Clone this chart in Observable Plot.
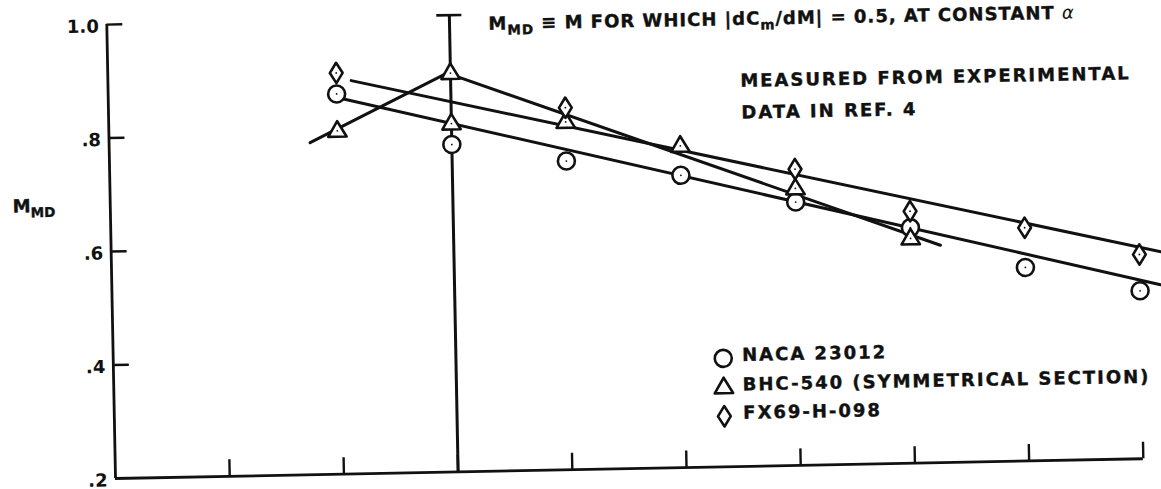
<!DOCTYPE html>
<html>
<head>
<meta charset="utf-8">
<script src="https://cdn.jsdelivr.net/npm/d3@7"></script>
<script src="https://cdn.jsdelivr.net/npm/@observablehq/plot@0.6"></script>
<style>
  html, body { margin: 0; padding: 0; background: #fff; }
  #chart svg { display: block; transform: rotate(-1.1deg); transform-origin: 115px 478px; }
</style>
</head>
<body>
<div id="chart"></div>
<script>
// Axis ticks (the x axis carries no labels)
const xTicks = [1, 2, 3, 4, 5, 6, 7, 8, 9];
const yTicks = [0.2, 0.4, 0.6, 0.8, 1.0];
const yTickLabels = [".2", ".4", ".6", ".8", "1.0"];

// Section names, in legend order
const seriesNames = ["NACA 23012", "BHC-540 (SYMMETRICAL SECTION)", "FX69-H-098"];

// Measured drag-divergence Mach numbers
const circleX = [2, 3, 4, 5, 6, 7, 8, 9];
const circleY = [0.870, 0.777, 0.744, 0.715, 0.664, 0.615, 0.541, 0.496];
const triangleX = [2, 3, 3, 4, 5, 6, 7];
const triangleY = [0.805, 0.903, 0.814, 0.813, 0.767, 0.688, 0.596];
const diamondX = [2, 4, 6, 7, 8, 9];
const diamondY = [0.907, 0.838, 0.722, 0.644, 0.611, 0.560];

// Faired lines through each section's data
const circleFitX = [2.06, 9.18];
const circleFitY = [0.861, 0.506];
const triangleFitX = [1.76, 2.97, 7.26];
const triangleFitY = [0.785, 0.903, 0.583];
const diamondFitX = [2.13, 9.19];
const diamondFitY = [0.893, 0.564];

// Tall bar with end cap at x = 3
const barX = [3];
const barTop = [1.005];

const zip = (xs, ys) => xs.map((x, i) => ({x, y: ys[i]}));
const circles = zip(circleX, circleY);
const triangles = zip(triangleX, triangleY);
const diamonds = zip(diamondX, diamondY);

// Custom outline symbols
const triangleSym = {
  draw(ctx, size) {
    const r = Math.sqrt(size / Math.PI);
    const w = r * 0.92, h = r * 1.55;
    ctx.moveTo(0, -h * 0.62);
    ctx.lineTo(w, h * 0.38);
    ctx.lineTo(-w, h * 0.38);
    ctx.closePath();
  }
};
const diamondSym = {
  draw(ctx, size) {
    const r = Math.sqrt(size / Math.PI);
    const w = r * 0.64, h = r * 1.02;
    ctx.moveTo(0, -h);
    ctx.lineTo(w, 0);
    ctx.lineTo(0, h);
    ctx.lineTo(-w, 0);
    ctx.closePath();
  }
};

// Legend entries
const legendX = [5.34];
const legendTextX = 5.51;
const legendY = [0.391, 0.340, 0.289];
const legendTextY = [0.385, 0.333, 0.283];

const ink = "#111";
const font = "DejaVu Sans";
const tickLenX = 0.14, tickLenY = 0.029;
const symbolStyle = {fill: "#fff", stroke: ink, strokeWidth: 2.6, strokeLinejoin: "round"};

const plot = Plot.plot({
  width: 1161,
  height: 489,
  marginLeft: 115,
  marginRight: 18,
  marginTop: 24,
  marginBottom: 11,
  x: {domain: [0, 9], axis: null},
  y: {domain: [0.2, 1.0], axis: null},
  style: {fontFamily: font, fontWeight: "bold", fontSize: "18px", color: ink, background: "#fff", overflow: "visible"},
  marks: [
    // frame axes
    Plot.ruleX([0], {y1: 0.2, y2: 1.0, stroke: ink, strokeWidth: 2.8}),
    Plot.ruleY([0.2], {x1: 0, x2: 9, stroke: ink, strokeWidth: 2.8}),
    Plot.ruleY(yTicks.slice(1), {x1: 0, x2: tickLenX, stroke: ink, strokeWidth: 2.4}),
    Plot.ruleX(xTicks, {y1: 0.2, y2: 0.2 + tickLenY, stroke: ink, strokeWidth: 2.4}),
    Plot.axisY(yTicks, {
      tickSize: 0, tickPadding: 8, dy: 2, label: null,
      tickFormat: d => yTickLabels[yTicks.indexOf(d)],
      fontSize: 18, fontWeight: "bold", fill: ink, stroke: ink, strokeWidth: 0.4
    }),
    // capped vertical bar
    Plot.ruleX(barX, {y1: 0.2, y2: barTop[0], stroke: ink, strokeWidth: 3}),
    Plot.ruleY(barTop, {x1: barX[0] - 0.11, x2: barX[0] + 0.11, stroke: ink, strokeWidth: 2.6}),
    // faired lines
    Plot.line(zip(diamondFitX, diamondFitY), {x: "x", y: "y", stroke: ink, strokeWidth: 3}),
    Plot.line(zip(circleFitX, circleFitY), {x: "x", y: "y", stroke: ink, strokeWidth: 3}),
    Plot.line(zip(triangleFitX, triangleFitY), {x: "x", y: "y", stroke: ink, strokeWidth: 3}),
    // data symbols
    Plot.dot(circles, {x: "x", y: "y", r: 8.5, symbol: "circle", ...symbolStyle}),
    Plot.dot(triangles, {x: "x", y: "y", r: 10, symbol: triangleSym, ...symbolStyle}),
    Plot.dot(diamonds, {x: "x", y: "y", r: 10, symbol: diamondSym, ...symbolStyle}),
    Plot.dot([...circles, ...triangles, ...diamonds], {x: "x", y: "y", r: 0.9, fill: ink}),
    // legend symbols
    Plot.dot(legendX, {x: d => d, y: () => legendY[0], r: 8.5, symbol: "circle", ...symbolStyle}),
    Plot.dot(legendX, {x: d => d, y: () => legendY[1], r: 10, symbol: triangleSym, ...symbolStyle}),
    Plot.dot(legendX, {x: d => d, y: () => legendY[2], r: 10, symbol: diamondSym, ...symbolStyle})
  ]
});

document.getElementById("chart").appendChild(plot);

// Annotation text with subscripts, placed through the chart scales
const sx = plot.scale("x"), sy = plot.scale("y");
function richText(x, y, parts, size, spacing) {
  const t = d3.select(plot).append("text")
    .attr("x", sx.apply(x)).attr("y", sy.apply(y))
    .attr("text-anchor", "start")
    .attr("font-family", font).attr("font-weight", "bold")
    .attr("font-size", size).attr("letter-spacing", spacing)
    .attr("fill", ink).attr("stroke", ink).attr("stroke-width", 0.4);
  let shift = 0;
  for (const p of parts) {
    const target = p.sub ? 5 : 0;
    const ts = t.append("tspan").text(p.t).attr("dy", target - shift);
    shift = target;
    if (p.sub) ts.attr("font-size", size * 0.75);
    if (p.italic) ts.attr("font-style", "italic").attr("font-weight", "normal").attr("stroke-width", 0);
  }
  return t;
}

richText(-0.85, 0.671, [{t: "M"}, {t: "MD", sub: true}], 18, 0);
richText(3.345, 0.977, [
  {t: "M"}, {t: "MD", sub: true}, {t: " ≡ M FOR WHICH |dC"}, {t: "m", sub: true},
  {t: "/dM| = 0.5, AT CONSTANT "}, {t: "α", italic: true}
], 18, 1);
richText(5.54, 0.868, [{t: "MEASURED FROM EXPERIMENTAL"}], 18, 2);
richText(5.545, 0.812, [{t: "DATA IN REF. 4"}], 18, 2);
seriesNames.forEach((name, i) => richText(legendTextX, legendTextY[i], [{t: name}], 18, 2));
</script>
</body>
</html>
